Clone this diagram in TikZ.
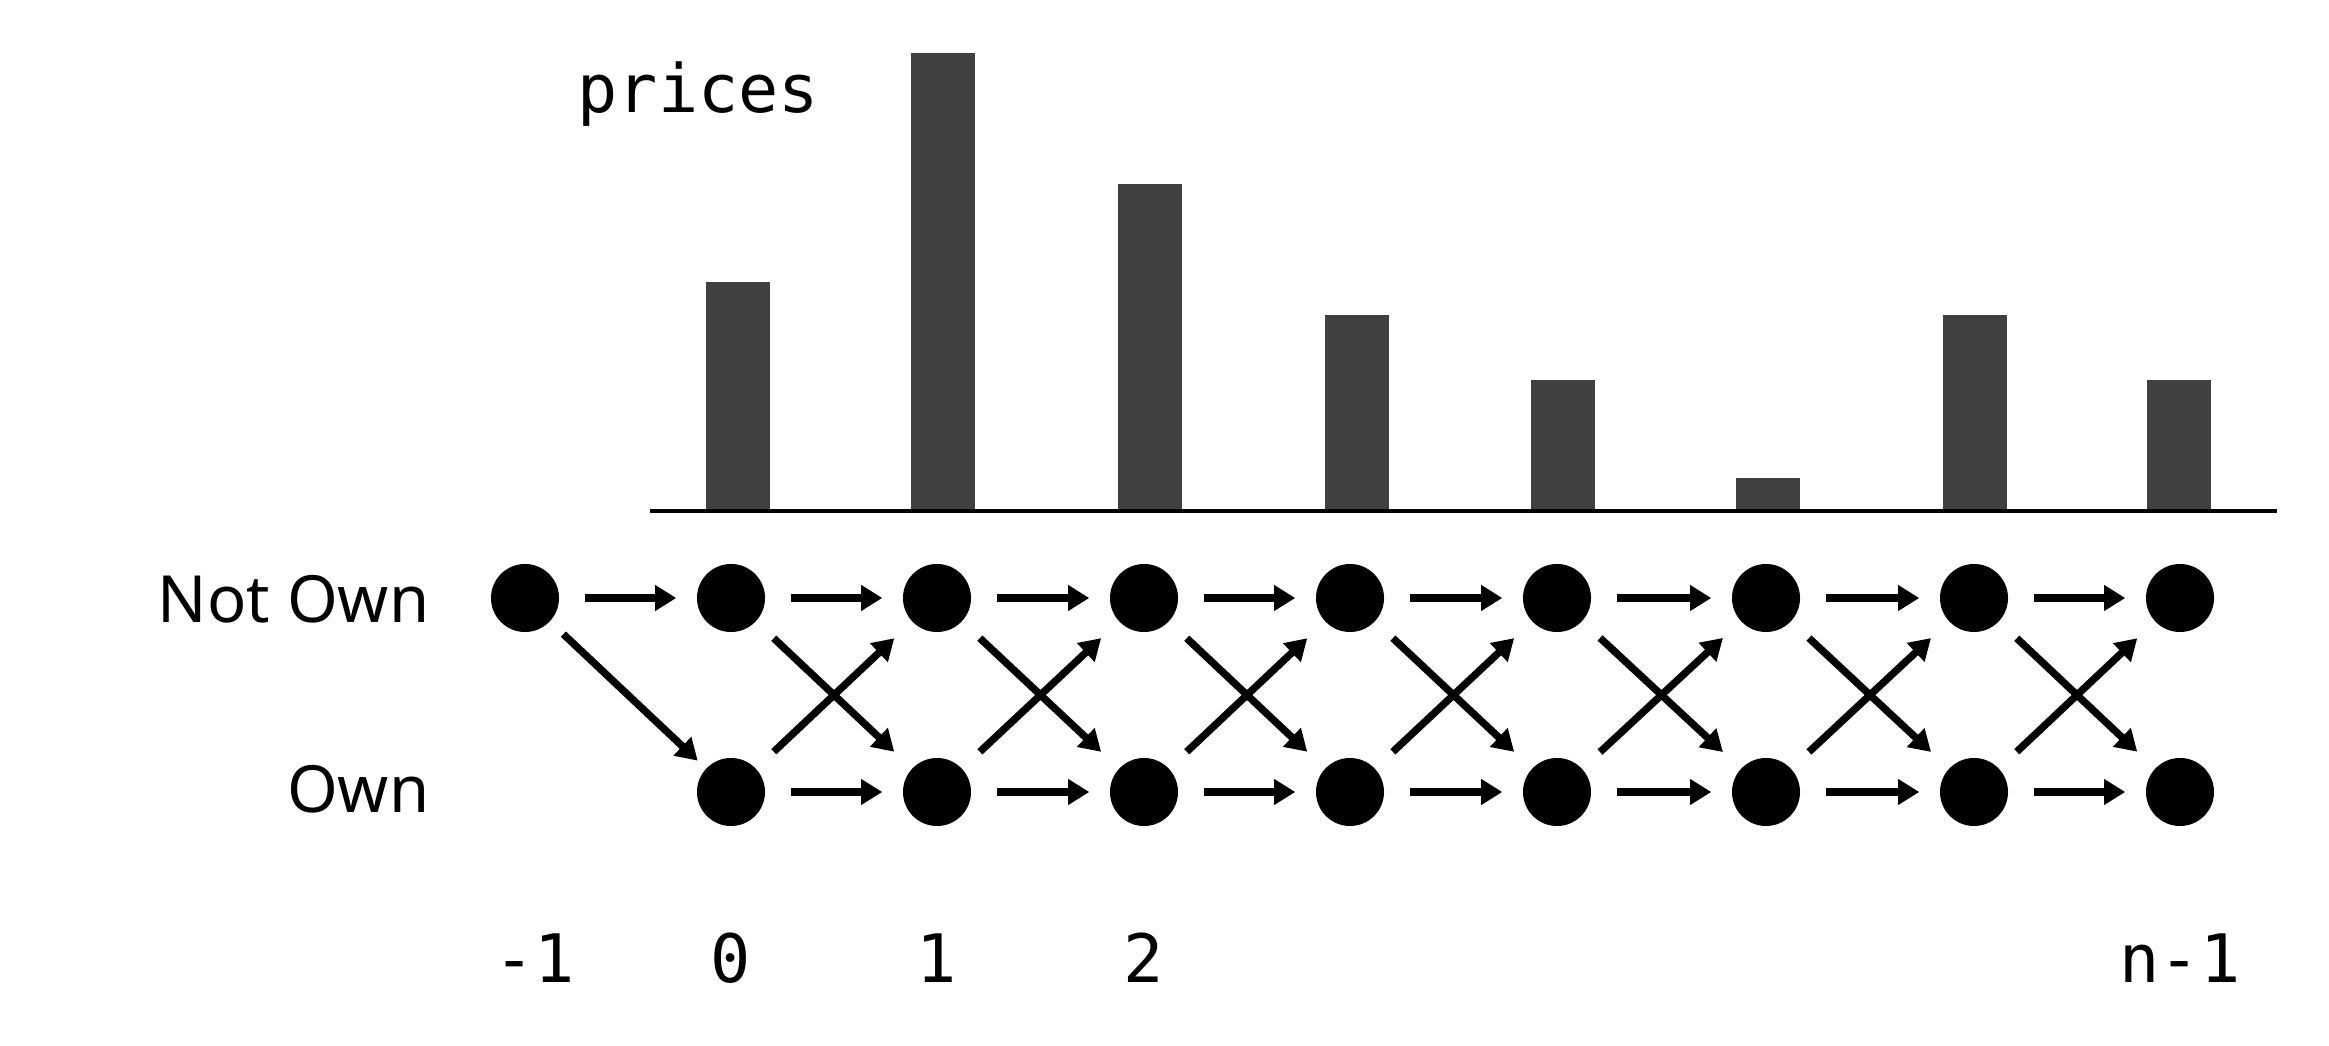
\documentclass[tikz,border=0pt]{standalone}
\usepackage{fontspec}
\setmainfont{Noto Sans}
\newfontfamily\codefont{DejaVu Sans Mono}
\usetikzlibrary{arrows.meta}
\begin{document}
\begin{tikzpicture}[x=0.01cm, y=-0.01cm,
  state/.style={circle, fill=black, inner sep=0pt, minimum size=0.68cm},
  move/.style={line width=2.1pt, -{Triangle[length=6pt, width=7pt]},
    shorten <=0.25cm, shorten >=0.2cm},
  cross/.style={move, shorten <=0.24cm, shorten >=0.24cm},
  bar/.style={fill=black!75},
  code/.style={font=\codefont\fontsize{19}{23}\selectfont, inner sep=0pt},
  side/.style={font=\fontsize{18.5}{22}\selectfont, inner sep=0pt, anchor=base east}]
  \useasboundingbox (0,0) rectangle (2329,1046);
  % price bars
  \node[code, anchor=base west] (prc) at (577,113) {prices};
  \foreach \x/\h in {738/282, 943/53, 1150/184, 1357/315, 1563/380, 1768/478, 1975/315, 2179/380}
    \fill[bar] (\x-32,\h) rectangle (\x+32,511);
  \draw[line width=1.2pt] (650,511) -- (2277,511);
  % states
  \node[state] (no0) at (525,598) {};
  \foreach \i/\x in {1/731, 2/937, 3/1144, 4/1350, 5/1557, 6/1766, 7/1974, 8/2180} {
    \node[state] (no\i) at (\x,598) {};
    \node[state] (ow\i) at (\x,792) {};
  }
  \node[side] (lno) at (430,623) {Not Own};
  \node[side] (low) at (430,813) {Own};
  % transitions
  \draw[move] (no0) -- (no1);
  \draw[move, shorten <=0.18cm, shorten >=0.11cm] (no0) -- (ow1);
  \foreach \i [evaluate=\i as \j using int(\i+1)] in {1,...,7} {
    \draw[move] (no\i) -- (no\j);
    \draw[move] (ow\i) -- (ow\j);
    \draw[cross] (no\i) -- (ow\j);
    \draw[cross] (ow\i) -- (no\j);
  }
  % time steps
  \foreach \x/\t in {535/-1, 731/0, 937/1, 1144/2, 2180/n-1}
    \node[code, anchor=base] (s\t) at (\x,982) {\t};
\end{tikzpicture}
\end{document}
